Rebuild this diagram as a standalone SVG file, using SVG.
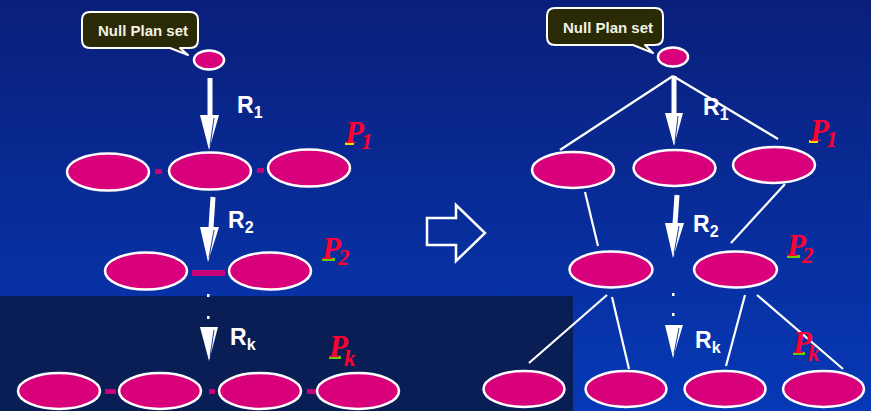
<svg xmlns="http://www.w3.org/2000/svg" width="871" height="411" viewBox="0 0 871 411">
  <defs>
    <linearGradient id="bg" x1="0" y1="0" x2="0" y2="1">
      <stop offset="0" stop-color="#0a1f7a"/>
      <stop offset="1" stop-color="#0639b6"/>
    </linearGradient>
    <style>
      .plan { fill: #d9007c; stroke: #ffffff; stroke-width: 2.5; }
      .link { fill: #c4007a; }
      .edge { stroke: #ffffff; stroke-width: 2.2; fill: none; }
      .shaft { stroke: #ffffff; stroke-width: 5; fill: none; }
      .head { fill: #ffffff; }
      .sliver { stroke: #1840a0; stroke-width: 1; fill: none; }
      .dot { fill: #ffffff; }
      .bubble { fill: #2a2a06; stroke: #ffffff; stroke-width: 2; stroke-linejoin: round; }
      .btext { font-family: "Liberation Sans", Arial, sans-serif; font-weight: bold; font-size: 15px; fill: #f2f2e2; }
      .rule { font-family: "Liberation Sans", Arial, sans-serif; font-weight: bold; font-size: 23px; fill: #ffffff; }
      .rsub { font-size: 16px; }
      .plabel { font-family: "Liberation Serif", "Times New Roman", serif; font-weight: bold; font-style: italic; font-size: 31px; fill: #ff0033; }
      .psub { font-size: 23px; }
    </style>
  </defs>

  <!-- backdrop -->
  <rect x="0" y="0" width="871" height="411" fill="url(#bg)"/>
  <rect x="0" y="296" width="573" height="115" fill="#0a1e56"/>

  <!-- connectors -->
  <g id="connectors">
    <!-- left: small links between plans -->
    <rect class="link" x="155" y="169" width="7" height="5"/>
    <rect class="link" x="257" y="168" width="7" height="5"/>
    <rect class="link" x="192" y="270" width="33" height="6"/>
    <rect class="link" x="105" y="389" width="11" height="5"/>
    <rect class="link" x="209" y="389" width="6" height="5"/>
    <rect class="link" x="307" y="389" width="10" height="5"/>

    <!-- left: rule arrows -->
    <line class="shaft" x1="210" y1="78" x2="210" y2="116"/>
    <polygon class="head" points="200,115 219,115 209,150"/>
    <line class="sliver" x1="214" y1="118" x2="210" y2="146"/>

    <line class="shaft" x1="213" y1="197" x2="211" y2="228"/>
    <polygon class="head" points="200,227 219,227 208,262"/>
    <line class="sliver" x1="214" y1="230" x2="209" y2="258"/>

    <rect class="dot" x="207" y="294" width="2.5" height="3"/>
    <rect class="dot" x="207" y="316" width="2.5" height="3"/>
    <polygon class="head" points="200,327 218,327 209,361"/>
    <line class="sliver" x1="214" y1="330" x2="210" y2="357"/>

    <!-- right: tree edges -->
    <line class="edge" x1="673" y1="76" x2="560" y2="150"/>
    <line class="edge" x1="673" y1="76" x2="778" y2="139"/>
    <line class="edge" x1="585" y1="192" x2="598" y2="246"/>
    <line class="edge" x1="785" y1="184" x2="731" y2="243"/>
    <line class="edge" x1="607" y1="295" x2="529" y2="363"/>
    <line class="edge" x1="612" y1="297" x2="629" y2="369"/>
    <line class="edge" x1="745" y1="295" x2="726" y2="366"/>
    <line class="edge" x1="757" y1="295" x2="843" y2="369"/>

    <!-- right: rule arrows -->
    <line class="shaft" x1="674" y1="76" x2="674" y2="114"/>
    <polygon class="head" points="665,113 683,113 674,146"/>
    <line class="sliver" x1="678" y1="116" x2="675" y2="142"/>

    <line class="shaft" x1="677" y1="195" x2="675" y2="224"/>
    <polygon class="head" points="665,223 684,223 673,258"/>
    <line class="sliver" x1="679" y1="226" x2="674" y2="254"/>

    <rect class="dot" x="672" y="293" width="2.5" height="3"/>
    <rect class="dot" x="672" y="313" width="2.5" height="3"/>
    <polygon class="head" points="665,325 683,325 673,358"/>
    <line class="sliver" x1="679" y1="328" x2="674" y2="354"/>

    <!-- transformation arrow -->
    <polygon points="427,218 456,218 456,205 485,233 456,261 456,245 427,245" fill="none" stroke="#ffffff" stroke-width="2.5"/>
  </g>

  <!-- left: null plan -->
  <g id="left-null">
    <path class="bubble" d="M90,12 H190 Q198,12 198,20 V40 Q198,48 190,48 H180 L188,55 L170,48 H90 Q82,48 82,40 V20 Q82,12 90,12 Z"/>
    <text class="btext" x="98" y="36">Null Plan set</text>
    <ellipse class="plan" cx="209" cy="60" rx="15" ry="9.5"/>
  </g>

  <!-- left: partial plans after R1 -->
  <g id="left-p1">
    <ellipse class="plan" cx="108" cy="172" rx="41" ry="18.5"/>
    <ellipse class="plan" cx="210" cy="171" rx="41" ry="18.5"/>
    <ellipse class="plan" cx="309" cy="168" rx="41" ry="18.5"/>
  </g>

  <!-- left: partial plans after R2 -->
  <g id="left-p2">
    <ellipse class="plan" cx="146" cy="271" rx="41" ry="18.5"/>
    <ellipse class="plan" cx="270" cy="271" rx="41" ry="18.5"/>
  </g>

  <!-- left: partial plans after Rk -->
  <g id="left-pk">
    <ellipse class="plan" cx="59" cy="391" rx="41" ry="18"/>
    <ellipse class="plan" cx="160" cy="391" rx="41" ry="18"/>
    <ellipse class="plan" cx="260" cy="391" rx="41" ry="18"/>
    <ellipse class="plan" cx="358" cy="391" rx="41" ry="18"/>
  </g>

  <!-- right: null plan -->
  <g id="right-null">
    <path class="bubble" d="M555,8 H655 Q663,8 663,16 V37 Q663,45 655,45 H645 L653,53 L633,45 H555 Q547,45 547,37 V16 Q547,8 555,8 Z"/>
    <text class="btext" x="563" y="33">Null Plan set</text>
    <ellipse class="plan" cx="673" cy="57" rx="15" ry="9.5"/>
  </g>

  <!-- right: partial plans after R1 -->
  <g id="right-p1">
    <ellipse class="plan" cx="573" cy="170" rx="41" ry="18"/>
    <ellipse class="plan" cx="674.5" cy="168" rx="41" ry="18"/>
    <ellipse class="plan" cx="774" cy="165" rx="41" ry="18"/>
  </g>

  <!-- right: partial plans after R2 -->
  <g id="right-p2">
    <ellipse class="plan" cx="611" cy="269.5" rx="41.5" ry="18"/>
    <ellipse class="plan" cx="735.5" cy="269.5" rx="41.5" ry="18"/>
  </g>

  <!-- right: partial plans after Rk -->
  <g id="right-pk">
    <ellipse class="plan" cx="524" cy="389" rx="40.5" ry="18"/>
    <ellipse class="plan" cx="626" cy="389" rx="40.5" ry="18"/>
    <ellipse class="plan" cx="725" cy="389" rx="40.5" ry="18"/>
    <ellipse class="plan" cx="823.5" cy="389" rx="40.5" ry="18"/>
  </g>

  <!-- rule labels -->
  <g id="rule-labels">
    <text class="rule" x="237" y="113">R<tspan class="rsub" dy="5">1</tspan></text>
    <text class="rule" x="228" y="228">R<tspan class="rsub" dy="5">2</tspan></text>
    <text class="rule" x="230" y="345">R<tspan class="rsub" dy="5">k</tspan></text>
    <text class="rule" x="703" y="115">R<tspan class="rsub" dy="5">1</tspan></text>
    <text class="rule" x="693" y="232">R<tspan class="rsub" dy="5">2</tspan></text>
    <text class="rule" x="695" y="348">R<tspan class="rsub" dy="5">k</tspan></text>
  </g>

  <!-- plan-set labels -->
  <g id="plan-labels">
    <rect x="345" y="142" width="9" height="3" fill="#f0e000"/>
    <text class="plabel" x="345" y="143">P<tspan class="psub" x="361" y="149">1</tspan></text>
    <rect x="322" y="258" width="13" height="3" fill="#66cc00"/>
    <text class="plabel" x="322" y="259">P<tspan class="psub" x="338" y="265">2</tspan></text>
    <rect x="329" y="356" width="12" height="3" fill="#66cc00"/>
    <text class="plabel" x="329" y="357">P<tspan class="psub" x="344" y="366">k</tspan></text>

    <rect x="809" y="140" width="9" height="3" fill="#f0e000"/>
    <text class="plabel" x="810" y="141">P<tspan class="psub" x="826" y="147">1</tspan></text>
    <rect x="787" y="255" width="13" height="3" fill="#66cc00"/>
    <text class="plabel" x="787" y="256">P<tspan class="psub" x="802" y="263">2</tspan></text>
    <rect x="793" y="352" width="12" height="3" fill="#66cc00"/>
    <text class="plabel" x="793" y="353">P<tspan class="psub" x="808" y="361">k</tspan></text>
  </g>
</svg>
